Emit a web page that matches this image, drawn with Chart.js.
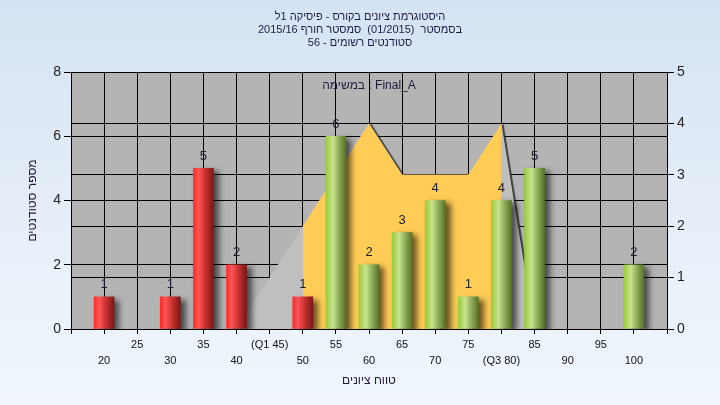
<!DOCTYPE html>
<html>
<head>
<meta charset="utf-8">
<script src="https://cdn.jsdelivr.net/npm/chart.js@4.4.1/dist/chart.umd.min.js"></script>
<style>
  html, body { margin: 0; padding: 0; }
  body {
    width: 720px; height: 405px; overflow: hidden;
    background: linear-gradient(to bottom, #d4e2f3 0%, #e5eef8 50%, #f0f6fc 100%);
  }
  #wrap { width: 720px; height: 405px; }
</style>
</head>
<body>
<div id="wrap"><canvas id="gradeChart" width="720" height="405" dir="rtl"></canvas></div>
<script>
/* ------------------------------
   DATA
------------------------------ */
const scores = [20, 25, 30, 35, 40, 45, 50, 55, 60, 65, 70, 75, 80, 85, 90, 95, 100];
const tickLabels = ['20', '25', '30', '35', '40', '(Q1 45)', '50', '55', '60', '65', '70', '75', '(Q3 80)', '85', '90', '95', '100'];
const studentCounts = [1, 0, 1, 5, 2, 0, 1, 6, 2, 3, 4, 1, 4, 5, 0, 0, 2];
const curveValues = [0, 0, 0, 0, 0, 1, 2, 3, 4, 3, 3, 3, 4, 0, 0, 0, 0];
const bandStart = 50;
const bandEnd = 80;
const passScore = 55;

const titleLines = [
  'היסטוגרמת ציונים בקורס - פיסיקה 1ל',
  'בסמסטר  (01/2015)  סמסטר חורף 2015/16',
  'סטודנטים רשומים - 56'
];
const taskLabel = 'Final_A : במשימה';
const yTitle = 'מספר סטודנטים';
const xTitle = 'טווח ציונים';

/* ------------------------------
   STYLE HELPERS
------------------------------ */
const FONT = '"Liberation Sans", "DejaVu Sans", Arial, sans-serif';
Chart.defaults.font.family = FONT;

const barWidth = 20;
const redStops = [[0, '#ff2a2a'], [0.25, '#ff5656'], [0.6, '#c83030'], [1, '#7a1818']];
const greenStops = [[0, '#9acb3a'], [0.35, '#c9e38e'], [0.7, '#86a452'], [1, '#587226']];

function barFill(c) {
  const chart = c.chart;
  const raw = c.raw;
  if (!raw || !chart.chartArea || !chart.scales.x) return '#cc3333';
  const xc = chart.scales.x.getPixelForValue(raw.x);
  const g = chart.ctx.createLinearGradient(xc - barWidth / 2, 0, xc + barWidth / 2, 0);
  const stops = raw.x < passScore ? redStops : greenStops;
  stops.forEach(([o, col]) => g.addColorStop(o, col));
  return g;
}

/* ------------------------------
   PLUGINS
------------------------------ */
const plotBackground = {
  id: 'plotBackground',
  beforeDraw(chart) {
    const { ctx, chartArea: a } = chart;
    ctx.save();
    ctx.fillStyle = '#b4b4b4';
    ctx.fillRect(a.left, a.top, a.right - a.left, a.bottom - a.top);
    ctx.restore();
  }
};

// gray curve casts a thin edge, bars cast a soft shadow
const shadows = {
  id: 'shadows',
  beforeDatasetsDraw(chart) {
    const ctx = chart.ctx;
    ctx.save();
    ctx.shadowColor = 'rgba(40,40,40,0.85)';
    ctx.shadowBlur = 1;
    ctx.shadowOffsetX = 2;
    ctx.shadowOffsetY = 0;
  },
  afterDatasetDraw(chart, args) {
    if (args.index === 2) chart.ctx.shadowColor = 'rgba(0,0,0,0)';
  },
  beforeDatasetDraw(chart, args) {
    if (args.meta.type === 'bar') {
      const ctx = chart.ctx;
      ctx.shadowColor = 'rgba(0,0,0,0.6)';
      ctx.shadowBlur = 6;
      ctx.shadowOffsetX = 5;
      ctx.shadowOffsetY = 3;
    }
  },
  afterDatasetsDraw(chart) {
    chart.ctx.restore();
  }
};

const barValues = {
  id: 'barValues',
  afterDatasetsDraw(chart) {
    const { ctx, chartArea: a } = chart;
    const meta = chart.getDatasetMeta(0);
    ctx.save();
    ctx.font = '13px ' + FONT;
    ctx.fillStyle = '#1c1c2e';
    ctx.textAlign = 'center';
    ctx.textBaseline = 'middle';
    meta.data.forEach((bar, i) => {
      if (!studentCounts[i]) return;
      ctx.fillText(String(studentCounts[i]), bar.x, bar.y - 12);
    });
    ctx.font = '12px ' + FONT;
    ctx.fillStyle = '#24183c';
    ctx.fillText(taskLabel, (a.left + a.right) / 2, a.top + 14);
    ctx.restore();
  }
};

/* ------------------------------
   CHART
------------------------------ */
const countPoints = scores.map((s, i) => ({ x: s, y: studentCounts[i] || null }));
const curvePoints = scores.map((s, i) => ({ x: s, y: curveValues[i] }));
const bandPoints = curvePoints.filter(p => p.x >= bandStart && p.x <= bandEnd);

new Chart(document.getElementById('gradeChart'), {
  type: 'bar',
  data: {
    datasets: [
      {
        type: 'bar',
        data: countPoints,
        yAxisID: 'y',
        barThickness: barWidth,
        backgroundColor: barFill,
        borderWidth: 0
      },
      {
        type: 'line',
        data: bandPoints,
        yAxisID: 'y1',
        fill: 'origin',
        backgroundColor: '#ffcc55',
        borderColor: 'rgba(0,0,0,0)',
        borderWidth: 0,
        pointRadius: 0,
        tension: 0
      },
      {
        type: 'line',
        data: curvePoints,
        yAxisID: 'y1',
        fill: 'origin',
        backgroundColor: '#bfbfbf',
        borderColor: 'rgba(0,0,0,0)',
        borderWidth: 0,
        pointRadius: 0,
        tension: 0
      }
    ]
  },
  options: {
    responsive: false,
    animation: false,
    layout: { padding: 0 },
    plugins: {
      legend: { display: false },
      tooltip: { enabled: false },
      title: {
        display: true,
        text: titleLines,
        color: '#1c1c44',
        font: { size: 11, weight: 'normal', lineHeight: 1.2 },
        padding: { top: 10, bottom: 22.4 }
      }
    },
    scales: {
      x: {
        type: 'linear',
        min: 15,
        max: 105,
        offset: false,
        afterFit: s => { s.height = 76; },
        ticks: {
          stepSize: 5,
          autoSkip: false,
          maxRotation: 0,
          padding: 3,
          color: '#111',
          font: { size: 11, lineHeight: 1.45 },
          callback: v => {
            const i = scores.indexOf(v);
            if (i < 0) return '';
            return i % 2 ? [tickLabels[i], ''] : ['', tickLabels[i]];
          }
        },
        grid: { color: '#000', lineWidth: 1, tickLength: 5, offset: false },
        border: { color: '#000' },
        title: {
          display: true,
          text: xTitle,
          color: '#24183c',
          font: { size: 12 },
          padding: { top: 0, bottom: 17 }
        }
      },
      y: {
        position: 'left',
        min: 0,
        max: 8,
        afterFit: s => { s.width = 71; },
        ticks: { stepSize: 2, padding: 3, color: '#222', font: { size: 14 } },
        grid: { color: '#000', lineWidth: 1, tickLength: 7 },
        border: { color: '#000' },
        title: {
          display: true,
          text: yTitle,
          color: '#24183c',
          font: { size: 12 },
          padding: { top: 25, bottom: 0 }
        }
      },
      y1: {
        position: 'right',
        min: 0,
        max: 5,
        afterFit: s => { s.width = 53; },
        ticks: { stepSize: 1, padding: 3, color: '#222', font: { size: 14 } },
        grid: { color: '#000', lineWidth: 1, tickLength: 7 },
        border: { color: '#000' }
      }
    }
  },
  plugins: [plotBackground, shadows, barValues]
});
</script>
</body>
</html>
